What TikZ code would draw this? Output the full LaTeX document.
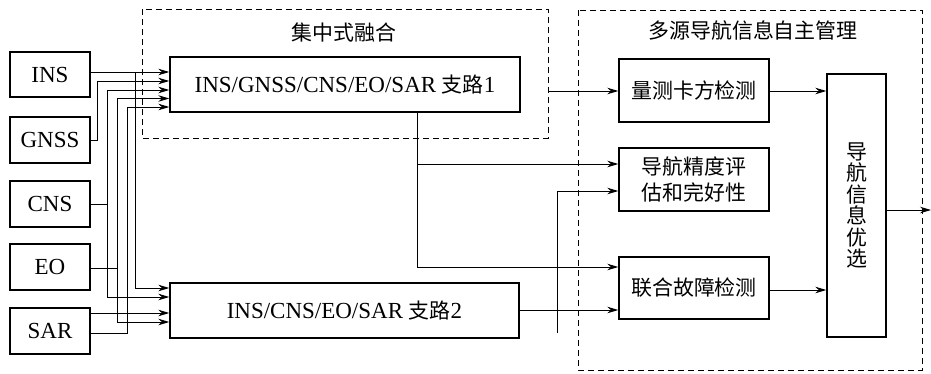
\documentclass[tikz,border=0pt]{standalone}
\usepackage{fontspec}
\setmainfont{Liberation Serif}
\newfontfamily\cjk{Noto Sans CJK SC}[Scale=0.91]
\usetikzlibrary{arrows.meta}
\begin{document}
\begin{tikzpicture}[x=1pt,y=-1pt,
  box/.style={draw, line width=1.4pt, inner sep=0pt, align=center, font=\fontsize{23}{25}\selectfont},
  grp/.style={draw, line width=1pt, dash pattern=on 6pt off 4pt},
  conn/.style={line width=1pt},
  arr/.style={line width=1pt, -{Stealth[length=11pt,width=6.5pt]}},
  title/.style={font=\fontsize{23}{25}\selectfont\cjk}]
\useasboundingbox (0,0) rectangle (931,373);
% groups
\draw[grp] (142,9) rectangle (548,138);
\coordinate (fusR) at (548,91);
\draw[grp] (578,10) rectangle (922,370);
\node[title] (t1) at (344,33) {集中式融合};
\node[title] (t2) at (753,30) {多源导航信息自主管理};
% sources
\node[box, minimum width=80pt, minimum height=45pt] (ins) at (50,74.5) {INS};
\node[box, minimum width=80pt, minimum height=46pt] (gnss) at (50,140) {GNSS};
\node[box, minimum width=80pt, minimum height=46pt] (cns) at (50,204) {CNS};
\node[box, minimum width=80pt, minimum height=46pt] (eo) at (50,267) {EO};
\node[box, minimum width=80pt, minimum height=46pt] (sar) at (50,331) {SAR};
% branches
\node[box, minimum width=350pt, minimum height=55pt] (b1) at (345,84.5) {INS/GNSS/CNS/EO/SAR {\cjk 支路}1};
\node[box, minimum width=349pt, minimum height=55pt] (b2) at (344.5,310.5) {INS/CNS/EO/SAR {\cjk 支路}2};
% management
\node[box, minimum width=150pt, minimum height=63pt, font=\fontsize{23}{25}\selectfont\cjk] (q) at (694,90.5) {量测卡方检测};
\node[box, minimum width=150pt, minimum height=63pt, font=\fontsize{23}{26}\selectfont\cjk] (acc) at (694,179.5) {导航精度评\\估和完好性};
\node[box, minimum width=150pt, minimum height=62pt, font=\fontsize{23}{25}\selectfont\cjk] (fd) at (694,288) {联合故障检测};
\node[box, minimum width=59pt, minimum height=263pt, font=\fontsize{23}{21.5}\selectfont\cjk] (opt) at (856.5,205.5) {导\\航\\信\\息\\优\\选};
% bus coordinates
\coordinate (insbus) at (135,72);
\coordinate (gnssbus) at (97,140);
\coordinate (cnsbus) at (107,204);
\coordinate (eobus) at (117,268);
\coordinate (sarbus) at (127,333);
% INS
\draw[arr] (ins.east |- insbus) -- (b1.west |- insbus);
\draw[arr] (insbus) |- (b2.west |- 0,288);
% GNSS
\draw[arr] (gnss.east |- gnssbus) -- (gnssbus) |- (b1.west |- 0,81);
% CNS
\draw[conn] (cns.east |- cnsbus) -- (cnsbus);
\draw[arr] (cnsbus) |- (b1.west |- 0,90);
\draw[arr] (cnsbus) |- (b2.west |- 0,297);
% EO
\draw[conn] (eo.east |- eobus) -- (eobus);
\draw[arr] (eobus) |- (b1.west |- 0,98.5);
\draw[arr] (eobus) |- (b2.west |- 0,322);
% SAR
\draw[arr] (sar.east |- 0,313) -- (b2.west |- 0,313);
\draw[arr] (sar.east |- sarbus) -- (sarbus) |- (b1.west |- 0,107);
% right side
\draw[arr] (fusR) -- (q.west |- fusR);
\draw[arr] (q.east |- fusR) -- (opt.west |- fusR);
\coordinate (b1down) at (417,267);
\draw[arr] (b1.south -| b1down) -- (b1down) -- (fd.west |- b1down);
\draw[arr] (b1.south -| b1down) |- (acc.west |- 0,164);
\coordinate (free) at (557,333);
\draw[arr] (free) |- (acc.west |- 0,191);
\draw[arr] (b2.east |- 0,310) -- (fd.west |- 0,310);
\draw[arr] (fd.east |- 0,290) -- (opt.west |- 0,290);
\coordinate (outp) at (931,210);
\draw[arr] (opt.east |- outp) -- (outp);
\end{tikzpicture}
\end{document}
